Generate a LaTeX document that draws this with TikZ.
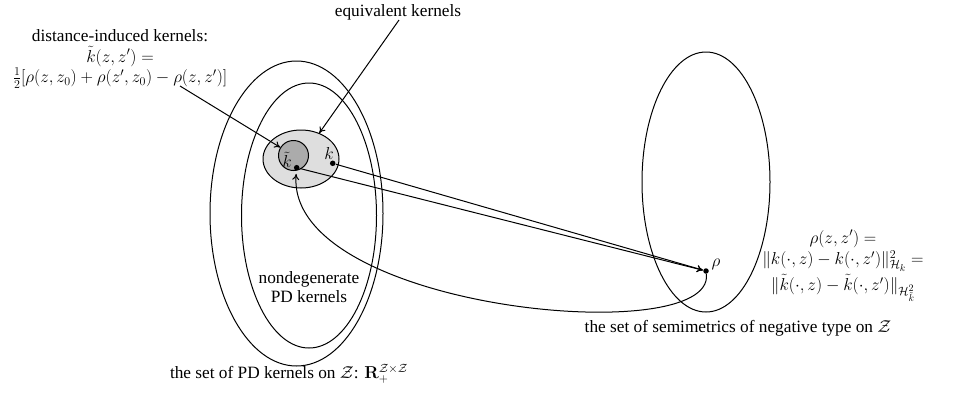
\documentclass[tikz,border=0pt]{standalone}
\usepackage[no-math]{fontspec}
\setmainfont{Liberation Serif}
\usetikzlibrary{shapes.geometric,arrows.meta}
\begin{document}
\begin{tikzpicture}[x=1pt,y=-1pt,
  font=\fontsize{17.28}{19.5}\selectfont,
  line width=1pt,
  setshape/.style={draw,ellipse,inner sep=0pt},
  dotnode/.style={circle,fill=black,inner sep=0pt,minimum size=5.5pt},
  arr/.style={-{To[length=6pt,width=7pt]}},
  lbl/.style={align=center,inner sep=0pt}]
\useasboundingbox (0,0) rectangle (959,400);
% sets
\node[setshape,minimum width=173pt,minimum height=305pt] (outer) at (296.5,213.5) {};
\node[setshape,minimum width=135pt,minimum height=265pt] (inner) at (309,215.5) {};
\node[setshape,fill=black!13,minimum width=76pt,minimum height=58pt] (light) at (301,159) {};
\node[draw,circle,fill=black!33,minimum size=30pt,inner sep=0pt] (dark) at (293.5,155.5) {};
\node[setshape,minimum width=128pt,minimum height=260pt] (rset) at (706,182) {};
% points
\node[dotnode] (kt) at (296.7,167.7) {};
\node[dotnode] (k) at (332.7,163.3) {};
\node[dotnode] (rho) at (706,271) {};
\node[lbl] (ktl) at (287,160) {$\tilde{k}$};
\node[lbl] (kl) at (329,153) {$k$};
\node[lbl] (rhol) at (716,264) {$\rho$};
% texts
\node[lbl] (eqt) at (398,12) {equivalent kernels};
\node[lbl] (dit) at (120,59) {distance-induced kernels:\\[1pt] $\tilde{k}(z,z')=$\\[1pt] $\frac{1}{2}[\rho(z,z_0)+\rho(z',z_0)-\rho(z,z')]$};
\node[lbl] (ndt) at (309,287) {nondegenerate\\PD kernels};
\node[lbl] (pdt) at (289,374) {the set of PD kernels on $\mathcal{Z}$: $\mathbf{R}_+^{\mathcal{Z}\times\mathcal{Z}}$};
\node[lbl] (smt) at (738,328) {the set of semimetrics of negative type on $\mathcal{Z}$};
\node[lbl] (rhot) at (843,266) {$\rho(z,z')=$\\[2pt] $\|k(\cdot,z)-k(\cdot,z')\|^2_{\mathcal{H}_k}=$\\[2pt] $\|\tilde{k}(\cdot,z)-\tilde{k}(\cdot,z')\|_{\mathcal{H}^2_{\tilde{k}}}$};
% connectors
\coordinate (dstart) at (180,86);
\coordinate (estart) at (399,20);
\draw[arr] (dstart) -- (dark);
\draw[arr] (estart) -- (light);
\draw[arr] (kt) -- (rho);
\draw[arr] (k) -- (rho);
\draw[arr,shorten >=3pt] (rho) .. controls (715,350) and (285,310) .. (kt);
\end{tikzpicture}
\end{document}
